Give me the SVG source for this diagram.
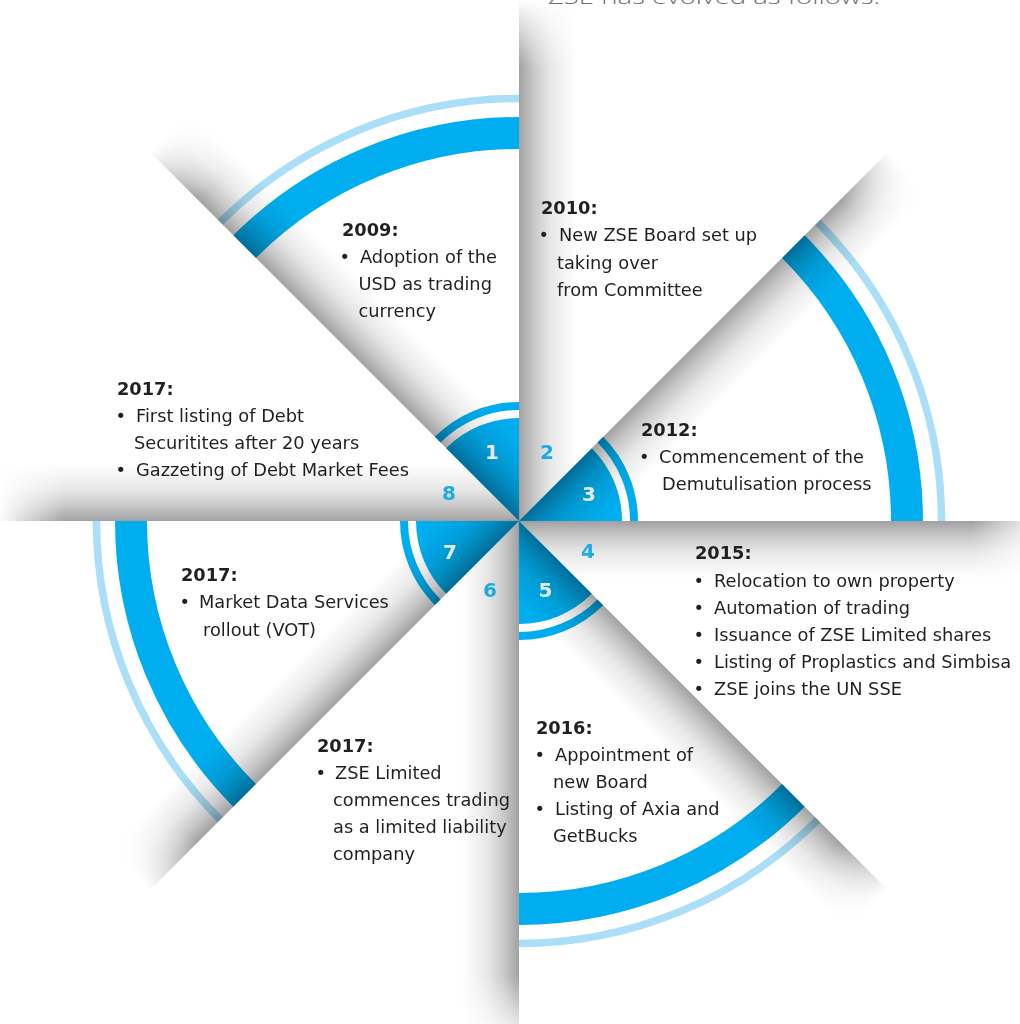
<svg xmlns="http://www.w3.org/2000/svg" width="1020" height="1024" viewBox="0 0 1020 1024">
  <defs>
    <style>
      .t { font-family: "DejaVu Sans", Verdana, sans-serif; font-size: 17.8px; fill: #231f20; }
      .yr { font-weight: bold; }
      .num { font-family: "DejaVu Sans", Verdana, sans-serif; font-size: 20px; font-weight: bold; text-anchor: middle; }
      .num-out { fill: #1eabe3; }
      .num-in { fill: #e4eaee; }
      .band { fill: none; stroke: #00aeef; stroke-width: 32; }
      .halo { fill: none; stroke: #aadff7; stroke-width: 7.5; }
      .hub-ring { fill: none; stroke: #00aeef; stroke-width: 8; }
      .hub { fill: #00aeef; }
      .intro { font-family: "Open Sans", "DejaVu Sans", sans-serif; font-weight: 300; font-size: 21px; fill: #6d6e71; }
    </style>

    <!-- soft fold shadow, dark at the crease and fading away from it -->
    <linearGradient id="shade" x1="0" y1="0" x2="0" y2="1">
      <stop offset="0" stop-color="#000" stop-opacity="0.37"/>
      <stop offset="0.25" stop-color="#000" stop-opacity="0.22"/>
      <stop offset="0.55" stop-color="#000" stop-opacity="0.09"/>
      <stop offset="1" stop-color="#000" stop-opacity="0"/>
    </linearGradient>
    <clipPath id="wedge"><polygon points="0,0 700,0 700,700"/></clipPath>
    <radialGradient id="fadeGrad" cx="0" cy="0" r="522" gradientUnits="userSpaceOnUse">
      <stop offset="0.87" stop-color="#fff"/>
      <stop offset="1" stop-color="#000"/>
    </radialGradient>
    <mask id="fade" maskUnits="userSpaceOnUse" x="-600" y="-600" width="1200" height="1200">
      <rect x="-600" y="-600" width="1200" height="1200" fill="url(#fadeGrad)"/>
    </mask>
    <rect id="fold" x="0" y="0" width="522" height="58" fill="url(#shade)" clip-path="url(#wedge)"/>

    <!-- one 45 degree petal: hub, hub ring, outer band and halo (225..270 deg) -->
    <g id="petal">
      <path class="hub" d="M0 0 L-72.83 -72.83 A103 103 0 0 1 0 -103 Z"/>
      <path class="hub-ring" d="M-81.32 -81.32 A115 115 0 0 1 0 -115"/>
      <path class="band" d="M-274.36 -274.36 A388 388 0 0 1 0 -388"/>
      <path class="halo" d="M-298.75 -298.75 A422.5 422.5 0 0 1 0 -422.5"/>
    </g>
  </defs>

  <rect width="1020" height="1024" fill="#fff"/>

  <text class="intro" x="548" y="3.5" textLength="332" lengthAdjust="spacingAndGlyphs">ZSE has evolved as follows:</text>

  <g transform="translate(519,521)">
    <g id="petal-1"><use href="#petal"/></g>
    <g id="petal-3"><use href="#petal" transform="rotate(90)"/></g>
    <g id="petal-5"><use href="#petal" transform="rotate(180)"/></g>
    <g id="petal-7"><use href="#petal" transform="rotate(270)"/></g>

    <!-- crease shadows, each falling on the clockwise side of its line -->
    <g id="folds" mask="url(#fade)">
      <use href="#fold" transform="rotate(270)"/>
      <use href="#fold" transform="rotate(315)"/>
      <use href="#fold" transform="rotate(0)"/>
      <use href="#fold" transform="rotate(45)"/>
      <use href="#fold" transform="rotate(90)"/>
      <use href="#fold" transform="rotate(135)"/>
      <use href="#fold" transform="rotate(180)"/>
      <use href="#fold" transform="rotate(225)"/>
    </g>
  </g>

  <g id="numbers" class="num">
    <text class="num-in" x="492" y="459">1</text>
    <text class="num-out" x="547" y="459">2</text>
    <text class="num-in" x="589" y="501">3</text>
    <text class="num-out" x="588" y="558">4</text>
    <text class="num-in" x="545.5" y="597">5</text>
    <text class="num-out" x="490" y="597">6</text>
    <text class="num-in" x="450" y="558.5">7</text>
    <text class="num-out" x="449" y="500">8</text>
  </g>

  <g id="sector-2009" class="t">
    <text class="yr" x="342" y="236">2009:</text>
    <text x="339.5" y="262.5">•</text>
    <text x="360" y="262.5">Adoption of the</text>
    <text x="358.5" y="289.5">USD as trading</text>
    <text x="358.5" y="316.5">currency</text>
  </g>

  <g id="sector-2010" class="t">
    <text class="yr" x="541" y="214">2010:</text>
    <text x="538.5" y="241">•</text>
    <text x="559" y="241">New ZSE Board set up</text>
    <text x="557" y="268.5">taking over</text>
    <text x="557" y="296">from Committee</text>
  </g>

  <g id="sector-2012" class="t">
    <text class="yr" x="641" y="436">2012:</text>
    <text x="639" y="463">•</text>
    <text x="659" y="463">Commencement of the</text>
    <text x="662" y="490">Demutulisation process</text>
  </g>

  <g id="sector-2015" class="t">
    <text class="yr" x="695" y="559">2015:</text>
    <text x="693.5" y="587">•</text>
    <text x="714" y="587">Relocation to own property</text>
    <text x="693.5" y="614">•</text>
    <text x="714" y="614">Automation of trading</text>
    <text x="693.5" y="641">•</text>
    <text x="714" y="641">Issuance of ZSE Limited shares</text>
    <text x="693.5" y="668">•</text>
    <text x="714" y="668">Listing of Proplastics and Simbisa</text>
    <text x="693.5" y="695">•</text>
    <text x="714" y="695">ZSE joins the UN SSE</text>
  </g>

  <g id="sector-2016" class="t">
    <text class="yr" x="536" y="734">2016:</text>
    <text x="534.5" y="761">•</text>
    <text x="555" y="761">Appointment of</text>
    <text x="553" y="788">new Board</text>
    <text x="534.5" y="815">•</text>
    <text x="555" y="815">Listing of Axia and</text>
    <text x="553" y="842">GetBucks</text>
  </g>

  <g id="sector-2017-zse" class="t">
    <text class="yr" x="317" y="752">2017:</text>
    <text x="315.5" y="779">•</text>
    <text x="335" y="779">ZSE Limited</text>
    <text x="333" y="806">commences trading</text>
    <text x="333" y="833">as a limited liability</text>
    <text x="333" y="859.5">company</text>
  </g>

  <g id="sector-2017-data" class="t">
    <text class="yr" x="181" y="581">2017:</text>
    <text x="179.5" y="608">•</text>
    <text x="199" y="608">Market Data Services</text>
    <text x="203" y="635.5">rollout (VOT)</text>
  </g>

  <g id="sector-2017-debt" class="t">
    <text class="yr" x="117" y="395">2017:</text>
    <text x="115.5" y="422">•</text>
    <text x="136" y="422">First listing of Debt</text>
    <text x="134" y="449">Securitites after 20 years</text>
    <text x="115.5" y="476">•</text>
    <text x="136" y="476">Gazzeting of Debt Market Fees</text>
  </g>
</svg>
